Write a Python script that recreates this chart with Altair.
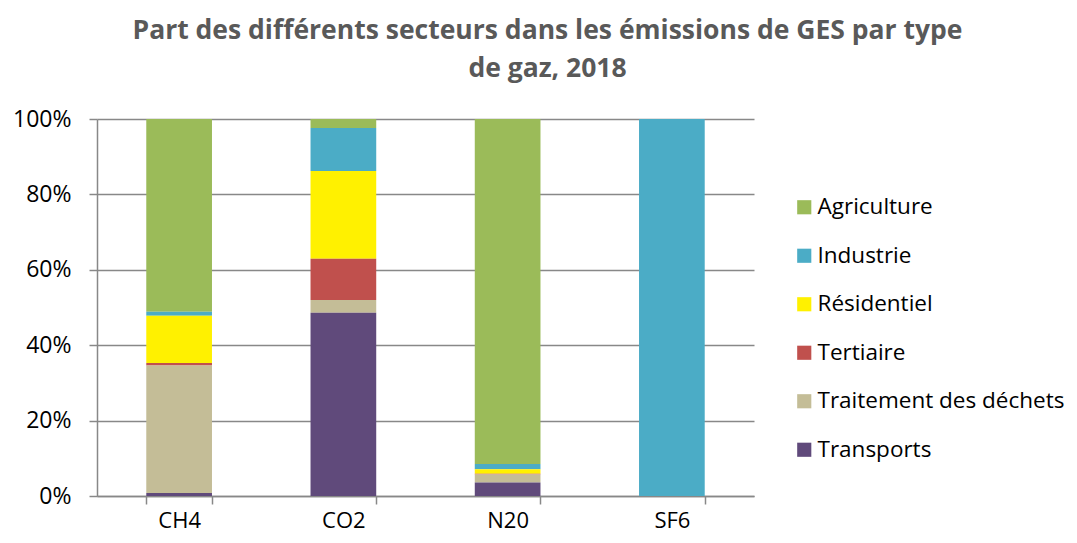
import altair as alt
import pandas as pd

gases = ["CH4", "CO2", "N20", "SF6"]
sectors = ["Agriculture", "Industrie", "Résidentiel", "Tertiaire", "Traitement des déchets", "Transports"]
colors = ["#9BBB59", "#4BACC6", "#FFF100", "#C0504D", "#C4BD97", "#604A7B"]

# percentage share per sector, per gas (order of gases above)
agriculture = [51.1, 2.4, 91.5, 0.0]
industrie = [1.1, 11.4, 1.4, 100.0]
residentiel = [12.5, 23.3, 1.2, 0.0]
tertiaire = [0.7, 10.9, 0.2, 0.0]
traitement = [33.8, 3.4, 2.1, 0.0]
transports = [0.8, 48.6, 3.6, 0.0]

series = [agriculture, industrie, residentiel, tertiaire, traitement, transports]
rows = []
for si, (sec, vals) in enumerate(zip(sectors, series)):
    for g, v in zip(gases, vals):
        rows.append({"gaz": g, "secteur": sec, "part": v / 100.0, "ordre": len(sectors) - 1 - si})
df = pd.DataFrame(rows)

FONT = "Open Sans"

chart = alt.Chart(df).mark_bar().encode(
    x=alt.X("gaz:N", sort=gases, title=None,
            scale=alt.Scale(paddingInner=0.6, paddingOuter=0.3),
            axis=alt.Axis(labelAngle=0, labelFont=FONT, labelFontSize=22, labelColor="#000000",
                          labelPadding=6, tickBand="extent", tickSize=8, tickColor="#888888",
                          domainColor="#888888", domainWidth=1.5, tickWidth=1.5)),
    y=alt.Y("part:Q", stack="zero", title=None,
            scale=alt.Scale(domain=[0, 1], nice=False),
            axis=alt.Axis(format="%", values=[0, 0.2, 0.4, 0.6, 0.8, 1.0], labelFont=FONT,
                          labelFontSize=23, labelColor="#000000", labelPadding=18, tickSize=8,
                          tickColor="#888888", tickWidth=1.5, gridColor="#888888", gridWidth=1.5,
                          domainColor="#888888", domainWidth=1.5)),
    color=alt.Color("secteur:N", title=None,
                    scale=alt.Scale(domain=sectors, range=colors),
                    legend=alt.Legend(orient="none", legendX=696, legendY=77, padding=0,
                                      symbolType="square", symbolSize=200, symbolStrokeWidth=0,
                                      labelFont=FONT, labelFontSize=22.5, labelColor="#000000",
                                      labelLimit=0, rowPadding=25.5, labelOffset=2)),
    order=alt.Order("ordre:Q", sort="ascending"),
).properties(
    width=657,
    height=377,
    padding={"left": 89, "top": 111, "right": 315, "bottom": 39},
    autosize=alt.AutoSizeParams(type="none"),
    title=alt.TitleParams(
        text=["Part des différents secteurs dans les émissions de GES par type", "de gaz, 2018"],
        font=FONT, fontSize=26.5, fontWeight="bold", color="#595959", anchor="middle",
        dx=122, lineHeight=38, offset=26),
).configure_view(stroke=None)

chart.save("out.html", embed_options={"renderer": "svg", "actions": False})
